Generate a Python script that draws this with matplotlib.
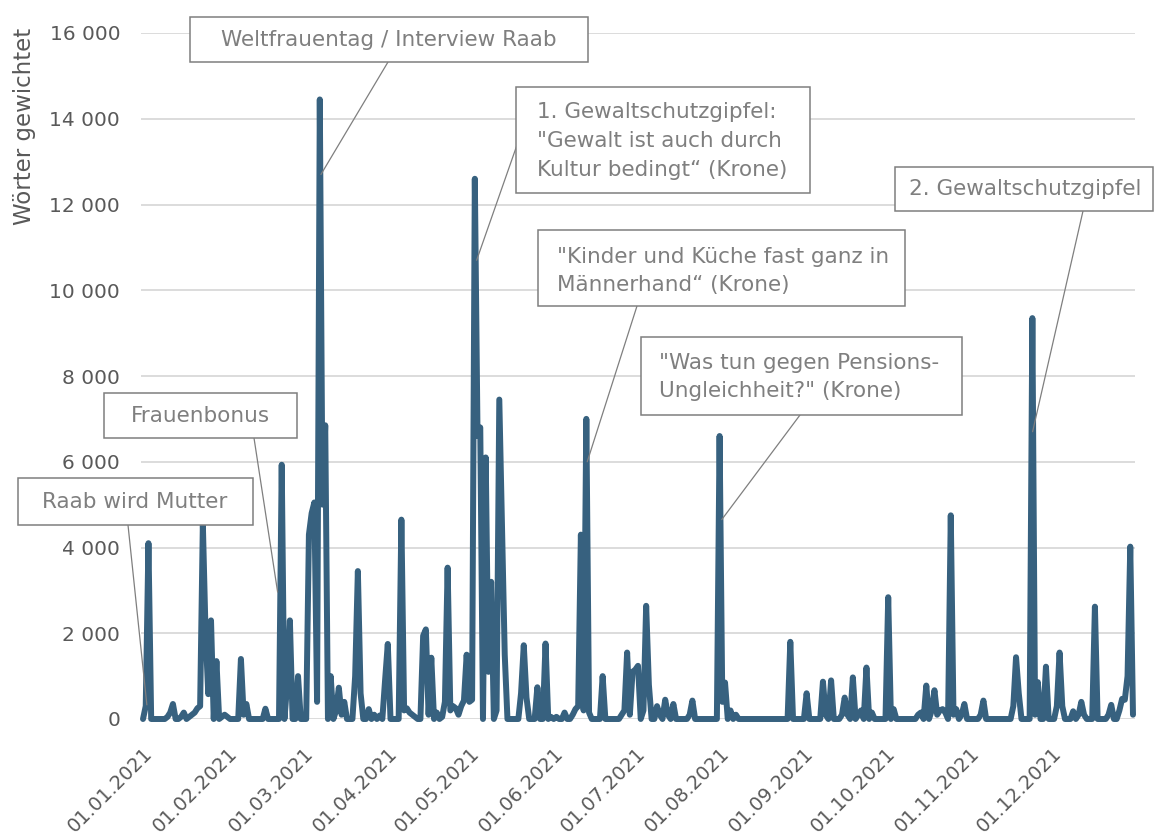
import pandas as pd
import matplotlib
matplotlib.use("Agg")
import matplotlib.pyplot as plt
import matplotlib.dates as mdates
from matplotlib.patches import Rectangle

# daily values 2021 ("Wörter gewichtet"), one list per month
jan = [0, 300, 4100, 0, 0, 0, 0, 0, 0, 50, 150, 350, 0, 0, 50, 150, 0, 50, 100, 150,
       250, 300, 4550, 2000, 580, 2300, 0, 1350, 0, 50, 100]
feb = [50, 0, 0, 0, 0, 1400, 100, 350, 0, 0, 0, 0, 0, 0, 240, 0, 0, 0, 0, 0,
       5930, 0, 800, 2300, 0, 0, 1000, 0]
mar = [0, 0, 4300, 4800, 5050, 400, 14450, 5000, 6850, 0, 1000, 0, 200, 730, 100, 400,
       0, 0, 0, 1000, 3450, 600, 0, 0, 230, 0, 100, 0, 80, 0, 900]
apr = [1750, 0, 0, 0, 0, 4650, 200, 250, 150, 100, 50, 0, 0, 1940, 2090, 100, 1430, 0,
       150, 0, 50, 400, 3530, 200, 300, 250, 100, 300, 430, 1500]
may = [400, 450, 12600, 6600, 6800, 0, 6100, 1100, 3200, 0, 200, 7450, 4500, 1500, 0,
       0, 0, 0, 0, 600, 1720, 500, 0, 0, 0, 740, 0, 0, 1760, 0, 50]
jun = [0, 50, 0, 0, 150, 0, 0, 100, 230, 300, 4300, 200, 7000, 150, 0, 0, 0, 0, 1000, 0,
       0, 0, 0, 0, 0, 100, 200, 1550, 100, 1100]
jul = [1150, 1240, 0, 200, 2640, 800, 0, 0, 300, 100, 0, 450, 100, 0, 350, 0, 0, 0, 0, 0,
       100, 430, 0, 0, 0, 0, 0, 0, 0, 0, 0]
aug = [6600, 400, 850, 0, 200, 0, 100, 0, 0, 0, 0, 0, 0, 0, 0, 0, 0, 0, 0, 0,
       0, 0, 0, 0, 0, 0, 1800, 0, 0, 0, 0]
sep = [0, 600, 0, 0, 0, 0, 0, 870, 100, 0, 900, 0, 0, 0, 100, 500, 100, 0, 970, 0,
       100, 200, 0, 1200, 0, 150, 0, 0, 0, 0]
oct_ = [0, 2840, 0, 230, 0, 0, 0, 0, 0, 0, 0, 0, 100, 150, 0, 780, 0, 200, 670, 100,
        200, 230, 150, 0, 4750, 100, 230, 0, 100, 350, 0]
nov = [0, 0, 0, 0, 100, 430, 0, 0, 0, 0, 0, 0, 0, 0, 0, 0, 300, 1440, 600, 0,
       0, 0, 0, 9350, 100, 860, 0, 0, 1220, 0]
dec = [0, 0, 300, 1550, 300, 0, 0, 0, 180, 0, 100, 400, 100, 0, 0, 0, 2620, 0, 0, 0,
       0, 100, 330, 0, 0, 200, 470, 450, 1000, 4020, 100]

values = jan + feb + mar + apr + may + jun + jul + aug + sep + oct_ + nov + dec
dates = pd.date_range("2021-01-01", "2021-12-31", freq="D")

tick_dates = pd.date_range("2021-01-01", "2021-12-01", freq="MS")
tick_labels = [d.strftime("%d.%m.%Y") for d in tick_dates]
y_ticks = list(range(0, 16001, 2000))
y_labels = [f"{v:,}".replace(",", " ") for v in y_ticks]

# annotation texts and the point on the curve they refer to
note_texts = ["Raab wird Mutter",
              "Frauenbonus",
              "Weltfrauentag / Interview Raab",
              '1. Gewaltschutzgipfel:\n"Gewalt ist auch durch\nKultur bedingt“ (Krone)',
              '"Kinder und Küche fast ganz in\nMännerhand“ (Krone)',
              '"Was tun gegen Pensions-\nUngleichheit?" (Krone)',
              "2. Gewaltschutzgipfel"]
note_dates = ["2021-01-02 10:00", "2021-02-19 12:00", "2021-03-07 10:00",
              "2021-05-03 16:00", "2021-06-13 08:00", "2021-08-01 19:00",
              "2021-11-24 02:00"]
note_values = [330, 2960, 12700, 10700, 6000, 4650, 6700]

# layout of the boxes in pixels (x0, y0, x1, y1 from top left), leader start, text anchor
boxes = [(18, 478, 253, 525), (104, 393, 297, 438), (190, 17, 588, 62),
         (516, 87, 810, 193), (538, 230, 905, 306), (641, 337, 962, 415),
         (895, 167, 1153, 211)]
starts = [(128, 525), (254, 438), (388, 62), (517, 145), (637, 306), (800, 415), (1083, 211)]
text_pos = [(135, 502, "center"), (200, 416, "center"), (389, 40, "center"),
            (537, 141, "left"), (557, 271, "left"), (659, 377, "left"), (1025, 189, "center")]

W, H = 1158, 836
line_color = "#37617f"
grey_txt = "#595959"
note_grey = "#7f7f7f"

fig = plt.figure(figsize=(W / 100, H / 100), dpi=100)
ax = fig.add_axes([141 / W, 1 - 719 / H, (1135 - 141) / W, (719 - 33) / H])

ax.plot(dates, values, color=line_color, lw=4.3, solid_joinstyle="round",
        solid_capstyle="round", clip_on=False, zorder=3)

x0 = mdates.date2num(pd.Timestamp("2021-01-01")) - 0.74
x1 = mdates.date2num(pd.Timestamp("2021-12-31")) + 0.74
ax.set_xlim(x0, x1)
ax.set_ylim(0, 16000)

ax.set_yticks(y_ticks)
ax.set_yticklabels(y_labels)
ax.set_xticks(tick_dates)
ax.set_xticklabels(tick_labels, rotation=45, ha="right", va="top", rotation_mode="anchor")
ax.tick_params(axis="y", length=0, pad=15, labelsize=14.5, labelcolor=grey_txt)
ax.tick_params(axis="x", length=0, pad=18, labelsize=14, labelcolor=grey_txt)
ax.grid(axis="y", color="#d9d9d9", lw=1.3)
ax.set_axisbelow(True)
for s in ax.spines.values():
    s.set_visible(False)

fig.text(25 / W, 1 - 28 / H, "Wörter gewichtet", rotation=90, ha="center", va="top",
         fontsize=16.5, color=grey_txt)

for i, txt in enumerate(note_texts):
    bx0, by0, bx1, by1 = boxes[i]
    sx, sy = starts[i]
    tx, ty, al = text_pos[i]
    ax.annotate("", xy=(mdates.date2num(pd.Timestamp(note_dates[i])), note_values[i]),
                xycoords="data", xytext=(sx / W, 1 - sy / H), textcoords="figure fraction",
                arrowprops=dict(arrowstyle="-", color=note_grey, lw=0.9,
                                shrinkA=0, shrinkB=0),
                annotation_clip=False, zorder=4)
    fig.add_artist(Rectangle((bx0 / W, 1 - by1 / H), (bx1 - bx0) / W, (by1 - by0) / H,
                             transform=fig.transFigure, facecolor="white",
                             edgecolor=note_grey, lw=1.1, zorder=5))
    fig.text(tx / W, 1 - ty / H, txt, ha=al, va="center", fontsize=15.5,
             color=note_grey, linespacing=1.55, zorder=6)

fig.savefig("out.png", dpi=100)
